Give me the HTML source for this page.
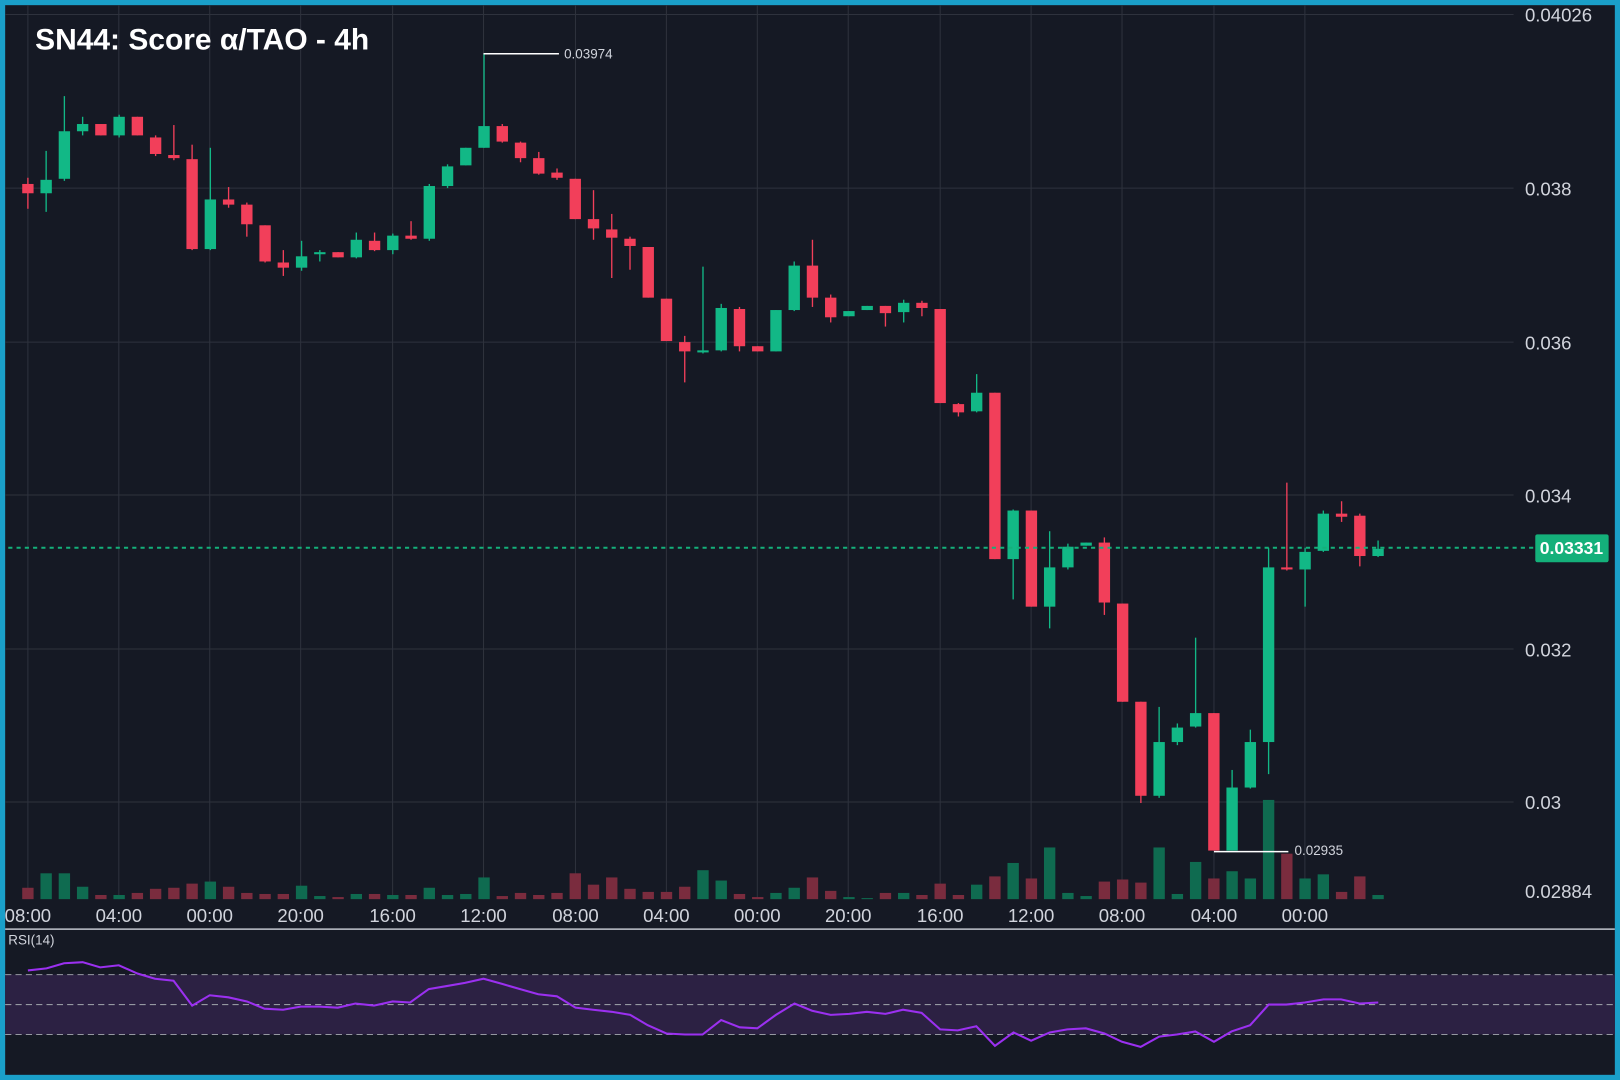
<!DOCTYPE html>
<html><head><meta charset="utf-8"><style>
html,body{margin:0;padding:0;background:#151924;}
svg{display:block;}
text{font-family:"Liberation Sans",sans-serif;}
</style></head><body>
<svg id="s" width="1620" height="1080" viewBox="0 0 1568 1045" preserveAspectRatio="none" xmlns="http://www.w3.org/2000/svg">
<rect x="0" y="0" width="1568" height="1045" fill="#1a9fc9"/>
<rect x="5" y="5" width="1558" height="1035" fill="#151924"/>
<g stroke="#2e323d" stroke-width="1">
<line x1="5" y1="14" x2="1465" y2="14"/><line x1="5" y1="182" x2="1465" y2="182"/><line x1="5" y1="331" x2="1465" y2="331"/><line x1="5" y1="479" x2="1465" y2="479"/><line x1="5" y1="628" x2="1465" y2="628"/><line x1="5" y1="776" x2="1465" y2="776"/>
<line x1="27" y1="5" x2="27" y2="870"/><line x1="115" y1="5" x2="115" y2="870"/><line x1="203" y1="5" x2="203" y2="870"/><line x1="291" y1="5" x2="291" y2="870"/><line x1="380" y1="5" x2="380" y2="870"/><line x1="468" y1="5" x2="468" y2="870"/><line x1="557" y1="5" x2="557" y2="870"/><line x1="645" y1="5" x2="645" y2="870"/><line x1="733" y1="5" x2="733" y2="870"/><line x1="821" y1="5" x2="821" y2="870"/><line x1="910" y1="5" x2="910" y2="870"/><line x1="998" y1="5" x2="998" y2="870"/><line x1="1086" y1="5" x2="1086" y2="870"/><line x1="1175" y1="5" x2="1175" y2="870"/><line x1="1263" y1="5" x2="1263" y2="870"/>
</g>
<g id="vol"></g>
<g id="cdl"></g>
<line x1="8" y1="530" x2="1486" y2="530" stroke="#14b07a" stroke-width="2" stroke-dasharray="4,4"/>
<rect x="1486" y="517" width="71" height="27" rx="2" fill="#14b07a"/>
<text x="1521" y="536" font-size="17" font-weight="bold" fill="#fff" text-anchor="middle">0.03331</text>
<line x1="468" y1="52" x2="541" y2="52" stroke="#fff" stroke-width="1.5"/>
<text x="546" y="53" font-size="13" fill="#d1d4dc" dominant-baseline="middle">0.03974</text>
<line x1="1175" y1="824" x2="1247" y2="824" stroke="#fff" stroke-width="1.5"/>
<text x="1253" y="824" font-size="13" fill="#d1d4dc" dominant-baseline="middle">0.02935</text>
<g font-size="18" fill="#d1d4dc">
<text x="1476" y="21">0.04026</text><text x="1476" y="189">0.038</text><text x="1476" y="338">0.036</text><text x="1476" y="486">0.034</text><text x="1476" y="635">0.032</text><text x="1476" y="783">0.03</text><text x="1476" y="869">0.02884</text>
</g>
<g font-size="18" fill="#d1d4dc" text-anchor="middle">
<text x="27" y="892">08:00</text><text x="115" y="892">04:00</text><text x="203" y="892">00:00</text><text x="291" y="892">20:00</text><text x="380" y="892">16:00</text><text x="468" y="892">12:00</text><text x="557" y="892">08:00</text><text x="645" y="892">04:00</text><text x="733" y="892">00:00</text><text x="821" y="892">20:00</text><text x="910" y="892">16:00</text><text x="998" y="892">12:00</text><text x="1086" y="892">08:00</text><text x="1175" y="892">04:00</text><text x="1263" y="892">00:00</text>
</g>
<text x="34" y="48" font-size="29" font-weight="bold" fill="#fff">SN44: Score α/TAO - 4h</text>
<line x1="5" y1="899" x2="1563" y2="899" stroke="#c0c4cc" stroke-width="1.5"/>
<text x="8" y="914" font-size="13" fill="#d1d4dc">RSI(14)</text>
<rect x="5" y="943" width="1558" height="58" fill="#2c2143"/>
<g stroke="#9598a1" stroke-dasharray="6,4" stroke-width="1">
<line x1="5" y1="943" x2="1563" y2="943"/><line x1="5" y1="972" x2="1563" y2="972"/><line x1="5" y1="1001" x2="1563" y2="1001"/>
</g>
<polyline fill="none" stroke="#9b30f0" stroke-width="2" points="27,939 45,937 62,932 80,931 97,936 115,934 133,942 150,947 168,949 186,973 203,963 221,965 239,969 256,976 274,977 291,974 309,974 327,975 344,971 362,973 380,969 397,970 415,957 433,954 450,951 468,947 486,952 503,957 521,962 539,964 557,975 574,977 592,979 610,982 627,992 645,1000 663,1001 680,1001 698,987 716,994 733,995 751,982 769,971 786,978 804,982 822,981 839,979 857,981 874,977 892,980 910,996 927,997 945,993 963,1012 981,999 998,1007 1016,999 1033,996 1051,995 1069,1000 1086,1008 1104,1013 1122,1003 1139,1001 1157,998 1175,1008 1192,998 1210,992 1228,972 1245,972 1263,970 1281,967 1298,967 1316,971 1334,970"/>
</svg>
<script>
var C=[['r',178,187,172,202],['g',174,187,146,205],['g',127,173,93,175],['g',120,127,113,131],['r',120,131,120,131],['g',113,131,111,133],['r',113,131,113,131],['r',133,149,131,151],['r',150,153,121,155],['r',154,241,140,242],['g',193,241,143,242],['r',193,198,181,201],['r',198,217,196,229],['r',218,253,218,254],['r',254,259,242,267],['g',248,259,233,262],['g',244,246,242,253],['r',244,249,244,249],['g',232,249,225,250],['r',233,242,225,243],['g',228,242,226,246],['r',228,231,214,232],['g',180,231,178,233],['g',161,180,159,182],['g',143,160,143,160],['g',122,143,52,143],['r',122,137,120,138],['r',138,153,137,157],['r',153,168,147,169],['r',167,172,163,174],['r',173,212,173,212],['r',212,221,184,232],['r',222,230,207,269],['r',231,238,229,261],['r',239,288,239,288],['r',289,330,289,330],['r',331,340,325,370],['g',339,341,258,342],['g',298,339,294,340],['r',299,335,297,340],['r',335,340,335,340],['g',300,340,300,340],['g',257,300,253,301],['r',257,288,232,297],['r',288,307,285,312],['g',301,306,301,306],['g',296,300,296,300],['r',296,303,296,316],['g',293,302,290,312],['r',293,298,291,306],['r',299,390,299,390],['r',391,399,390,403],['g',380,398,362,399],['r',380,541,380,541],['g',494,541,493,580],['r',494,587,494,587],['g',549,587,514,608],['g',529,549,526,551],['g',525,528,525,528],['r',525,583,520,595],['r',584,679,584,679],['r',679,770,679,777],['g',718,770,684,772],['g',704,718,700,721],['g',690,703,617,704],['r',690,823,690,823],['g',762,823,745,823],['g',718,762,706,763],['g',549,718,530,749],['r',549,551,467,552],['g',534,551,530,587],['g',497,533,494,534],['r',497,500,485,505],['r',499,538,497,548],['g',531,538,523,539]];
var V=[859,845,845,858,866,866,864,860,859,855,853,858,864,865,865,857,867,868,865,865,866,866,859,866,865,849,867,864,866,864,845,856,849,860,863,863,858,842,852,865,868,864,859,849,862,868,869,864,864,866,855,866,856,848,835,850,820,864,867,853,851,854,820,865,834,850,843,850,774,826,850,846,863,848,866];
var ns="http://www.w3.org/2000/svg",cg=document.getElementById('cdl'),vg=document.getElementById('vol');
function el(g,t,a){var e=document.createElementNS(ns,t);for(var k in a)e.setAttribute(k,a[k]);g.appendChild(e);}
C.forEach(function(c,i){var x=27+17.66*i,col=c[0]=='g'?'#12b886':'#f23f5a';
el(cg,'line',{x1:x,x2:x,y1:c[3],y2:c[4],stroke:col,'stroke-width':1.3});
el(cg,'rect',{x:x-5.5,y:c[1],width:11,height:Math.max(2,c[2]-c[1]),fill:col});
el(vg,'rect',{x:x-5.5,y:V[i],width:11,height:870-V[i],fill:c[0]=='g'?'#0f6b50':'#7a2c3e'});});
</script>
</body></html>
